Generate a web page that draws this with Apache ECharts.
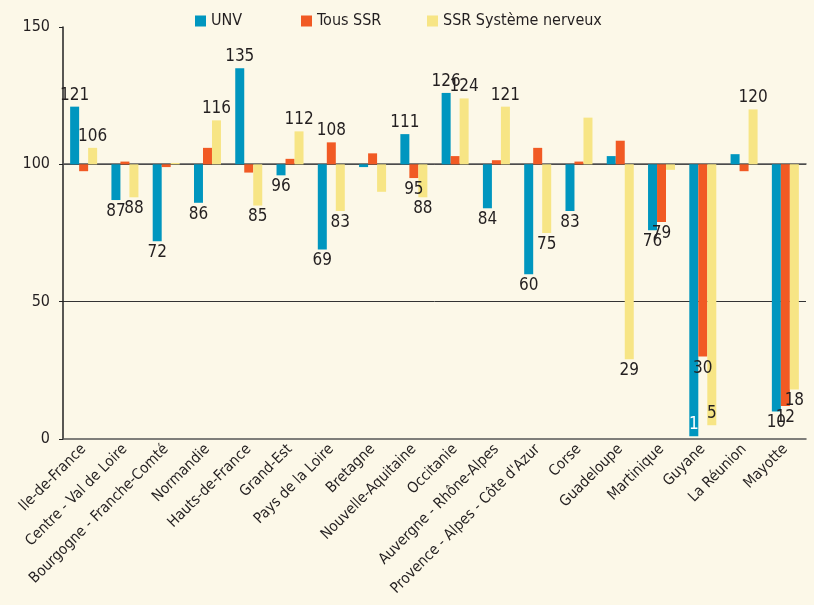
<!DOCTYPE html>
<html>
<head>
<meta charset="utf-8">
<script src="https://cdn.jsdelivr.net/npm/echarts@6/dist/echarts.min.js"></script>
<style>
  html, body { margin: 0; padding: 0; background: #fcf8e8; }
  #chart { width: 814px; height: 605px; }
</style>
</head>
<body>
<div id="chart"></div>
<script>
// Régions (axe des catégories)
const regions = [
  "Ile-de-France", "Centre - Val de Loire", "Bourgogne - Franche-Comté", "Normandie",
  "Hauts-de-France", "Grand-Est", "Pays de la Loire", "Bretagne", "Nouvelle-Aquitaine",
  "Occitanie", "Auvergne - Rhône-Alpes", "Provence - Alpes - Côte d'Azur", "Corse",
  "Guadeloupe", "Martinique", "Guyane", "La Réunion", "Mayotte"
];

// Indices (base 100)
const unv = [121, 87, 72, 86, 135, 96, 69, 99, 111, 126, 84, 60, 83, 103, 76, 1, 103.7, 10];
const tousSsr = [97.5, 101, 99, 106, 97, 102, 108, 104, 95, 103, 101.5, 106, 101, 108.6, 79, 30, 97.5, 12];
const ssrNerveux = [106, 88, 100.5, 116, 85, 112, 83, 90, 88, 124, 121, 75, 117, 29, 98, 5, 120, 18];

// étiquettes affichées (1 = oui)
const unvLabelled = [1, 1, 1, 1, 1, 1, 1, 0, 1, 1, 1, 1, 1, 0, 1, 1, 0, 1];
const ssrLabelled = [0, 0, 0, 0, 0, 0, 1, 0, 1, 0, 0, 0, 0, 0, 1, 1, 0, 1];
const nerveuxLabelled = [1, 1, 0, 1, 1, 1, 1, 0, 1, 1, 1, 1, 0, 1, 0, 1, 1, 1];

const BASE = 100;
const FONT = "'Liberation Sans Narrow', 'DejaVu Sans Condensed', Arial, sans-serif";

const chart = echarts.init(document.getElementById("chart"));

// barres partant de 100 : une barre transparente + une barre visible empilées
function makeSeries(name, values, labelled, color, labelColor) {
  const base = {
    name: name + "_base",
    type: "bar",
    stack: name,
    barWidth: 9,
    barGap: "0%",
    silent: true,
    itemStyle: { color: "transparent" },
    emphasis: { disabled: true },
    data: values.map((v) => Math.min(v, BASE)),
  };
  const delta = {
    name: name,
    type: "bar",
    stack: name,
    barWidth: 9,
    barGap: "0%",
    itemStyle: { color: color },
    emphasis: { disabled: true },
    data: values.map((v, i) => {
      const item = { value: Math.abs(v - BASE) };
      if (labelled[i]) {
        let pos = v >= BASE ? "top" : "bottom";
        let col = "#231f20";
        if (v < 8) {
          pos = "insideBottom";
          col = labelColor;
        }
        item.label = {
          show: true,
          position: pos,
          distance: 3,
          color: col,
          fontSize: 17,
          fontFamily: FONT,
          formatter: () => String(Math.round(v)),
        };
      }
      return item;
    }),
  };
  return [base, delta];
}

// une légende par série pour garder les positions d'origine
function legendAt(name, left) {
  return {
    data: [name],
    left: left,
    top: 8,
    icon: "rect",
    itemWidth: 11,
    itemHeight: 11,
    itemGap: 0,
    textStyle: { fontSize: 16, color: "#231f20", fontFamily: FONT },
  };
}

const option = {
  backgroundColor: "#fcf8e8",
  animation: false,
  textStyle: { fontFamily: FONT },
  legend: [
    legendAt("UNV", 190),
    legendAt("Tous SSR", 296),
    legendAt("SSR Système nerveux", 422),
  ],
  grid: { left: 63, right: 8, top: 27, bottom: 166 },
  xAxis: [
    {
      type: "category",
      data: regions,
      axisLine: { lineStyle: { color: "#555", width: 1.5 } },
      axisTick: { length: 5, lineStyle: { color: "#555" } },
      axisLabel: {
        rotate: 45,
        interval: 0,
        fontSize: 15,
        color: "#231f20",
        margin: 8,
        fontFamily: FONT,
      },
    },
    {
      // ligne de base à 100 avec graduations
      type: "category",
      data: regions,
      position: "bottom",
      offset: -275,
      axisLine: { lineStyle: { color: "#555", width: 1.5 } },
      axisTick: { length: 5, lineStyle: { color: "#555" } },
      axisLabel: { show: false },
    },
  ],
  yAxis: {
    type: "value",
    min: 0,
    max: 150,
    interval: 50,
    axisLine: { show: true, lineStyle: { color: "#222", width: 1.5 } },
    axisTick: { show: true, length: 4, lineStyle: { color: "#222" } },
    axisLabel: { fontSize: 16, color: "#231f20", margin: 13, fontFamily: FONT },
    splitLine: {
      show: true,
      showMinLine: false,
      showMaxLine: false,
      lineStyle: { color: "#333", width: 1 },
    },
  },
  series: [
    ...makeSeries("UNV", unv, unvLabelled, "#0096bf", "#ffffff"),
    ...makeSeries("Tous SSR", tousSsr, ssrLabelled, "#f15a24", "#231f20"),
    ...makeSeries("SSR Système nerveux", ssrNerveux, nerveuxLabelled, "#f7e585", "#231f20"),
  ],
};

chart.setOption(option);
</script>
</body>
</html>
